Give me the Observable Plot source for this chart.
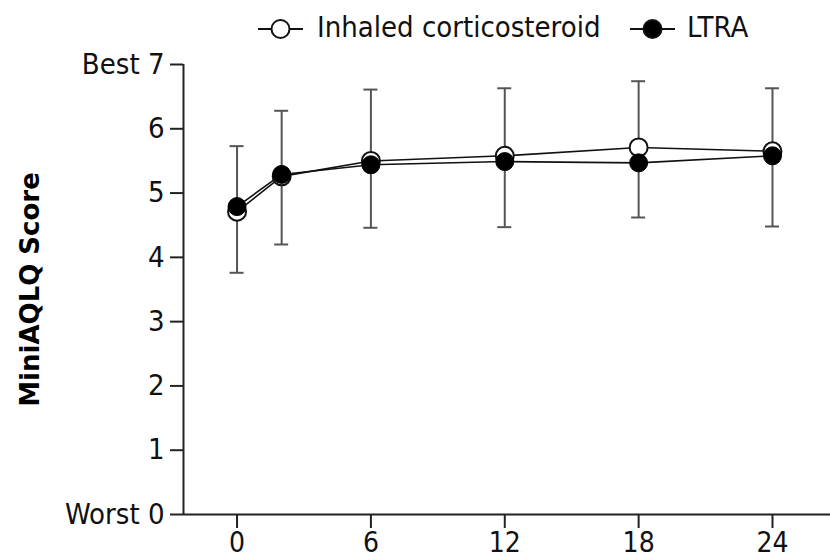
<!DOCTYPE html>
<html>
<head>
<meta charset="utf-8">
<script src="https://cdn.jsdelivr.net/npm/d3@7"></script>
<script src="https://cdn.jsdelivr.net/npm/@observablehq/plot@0.6"></script>
<style>
  html, body { margin: 0; padding: 0; background: #fff; }
  #wrap { width: 830px; height: 560px; position: relative; overflow: hidden; }
  #legend { height: 52px; position: relative; font-family: "DejaVu Sans Condensed", sans-serif; font-size: 29px; color: #111; }
  #legend .sym { position: absolute; top: 14px; }
  #legend .lab { position: absolute; top: 9px; line-height: 36px; white-space: nowrap; }
  #legend svg { display: block; }
</style>
</head>
<body>
<div id="wrap">
  <div id="legend"></div>
  <div id="chart"></div>
</div>
<script>
// ---- data ----
const weeks = [0, 2, 6, 12, 18, 24];
const icsScore = [4.71, 5.26, 5.50, 5.58, 5.71, 5.65];
const ltraScore = [4.79, 5.29, 5.44, 5.49, 5.47, 5.58];
const errLow = [3.76, 4.20, 4.46, 4.47, 4.62, 4.48];
const errHigh = [5.73, 6.28, 6.61, 6.63, 6.74, 6.63];
const seriesNames = ["Inhaled corticosteroid", "LTRA"];
const xTicks = [0, 6, 12, 18, 24];
const yTicks = [0, 1, 2, 3, 4, 5, 6, 7];
const yTickLabels = ["Worst 0", "1", "2", "3", "4", "5", "6", "Best 7"];
const yTitle = "MiniAQLQ Score";
const xDomain = [-2.4, 26.6];
const yDomain = [0, 7];

// ---- tables ----
const ics = weeks.map((w, i) => ({week: w, score: icsScore[i]}));
const ltra = weeks.map((w, i) => ({week: w, score: ltraScore[i]}));
const bars = weeks.map((w, i) => ({week: w, lo: errLow[i], hi: errHigh[i]}));

// ---- legend (HTML) ----
const legend = document.getElementById("legend");
const legendItems = [
  {name: seriesNames[0], fill: "#fff", sym: 258, lab: 317},
  {name: seriesNames[1], fill: "#000", sym: 630, lab: 687}
];
for (const it of legendItems) {
  const s = document.createElement("div");
  s.className = "sym";
  s.style.left = it.sym + "px";
  s.innerHTML = `<svg width="45" height="30"><line x1="0" x2="45" y1="15" y2="15" stroke="#111" stroke-width="2"/><circle cx="22.5" cy="15" r="9" fill="${it.fill}" stroke="#111" stroke-width="2"/></svg>`;
  legend.appendChild(s);
  const t = document.createElement("div");
  t.className = "lab";
  t.style.left = it.lab + "px";
  t.textContent = it.name;
  legend.appendChild(t);
}

// ---- chart ----
const font = `"DejaVu Sans Condensed", sans-serif`;
const chart = Plot.plot({
  width: 830,
  height: 508,
  marginLeft: 183,
  marginRight: 0,
  marginTop: 12,
  marginBottom: 46,
  style: {fontFamily: font, fontSize: "29px", color: "#111", background: "#fff", overflow: "visible"},
  x: {domain: xDomain},
  y: {domain: yDomain},
  marks: [
    Plot.axisX({ticks: xTicks, tickSize: 14, tickPadding: 4, fontSize: 28, tickFormat: d => String(d), label: null, strokeWidth: 2, stroke: "#222"}),
    Plot.axisY({ticks: yTicks, tickSize: 13, tickPadding: 6, tickFormat: d => yTickLabels[yTicks.indexOf(d)], label: null, strokeWidth: 2, stroke: "#222"}),
    Plot.ruleY([yDomain[0]], {stroke: "#222", strokeWidth: 2}),
    Plot.ruleX([xDomain[0]], {y1: yDomain[0], y2: yDomain[1], stroke: "#222", strokeWidth: 2}),
    Plot.text([yTitle], {frameAnchor: "left", textAnchor: "middle", rotate: -90, dx: -153, fontWeight: "bold", fontSize: 26, fontFamily: "DejaVu Sans", fill: "#000"}),
    Plot.ruleX(bars, {x: "week", y1: "lo", y2: "hi", stroke: "#555", strokeWidth: 2}),
    Plot.ruleY(bars, {x1: "week", x2: "week", y: "lo", insetLeft: -7, insetRight: -7, stroke: "#555", strokeWidth: 2}),
    Plot.ruleY(bars, {x1: "week", x2: "week", y: "hi", insetLeft: -7, insetRight: -7, stroke: "#555", strokeWidth: 2}),
    Plot.line(ics, {x: "week", y: "score", stroke: "#111", strokeWidth: 1.6}),
    Plot.line(ltra, {x: "week", y: "score", stroke: "#111", strokeWidth: 1.6}),
    Plot.dot(ics, {x: "week", y: "score", r: 9, fill: "#fff", stroke: "#111", strokeWidth: 2}),
    Plot.dot(ltra, {x: "week", y: "score", r: 9, fill: "#000", stroke: "#000", strokeWidth: 1})
  ]
});
document.getElementById("chart").appendChild(chart);
</script>
</body>
</html>
